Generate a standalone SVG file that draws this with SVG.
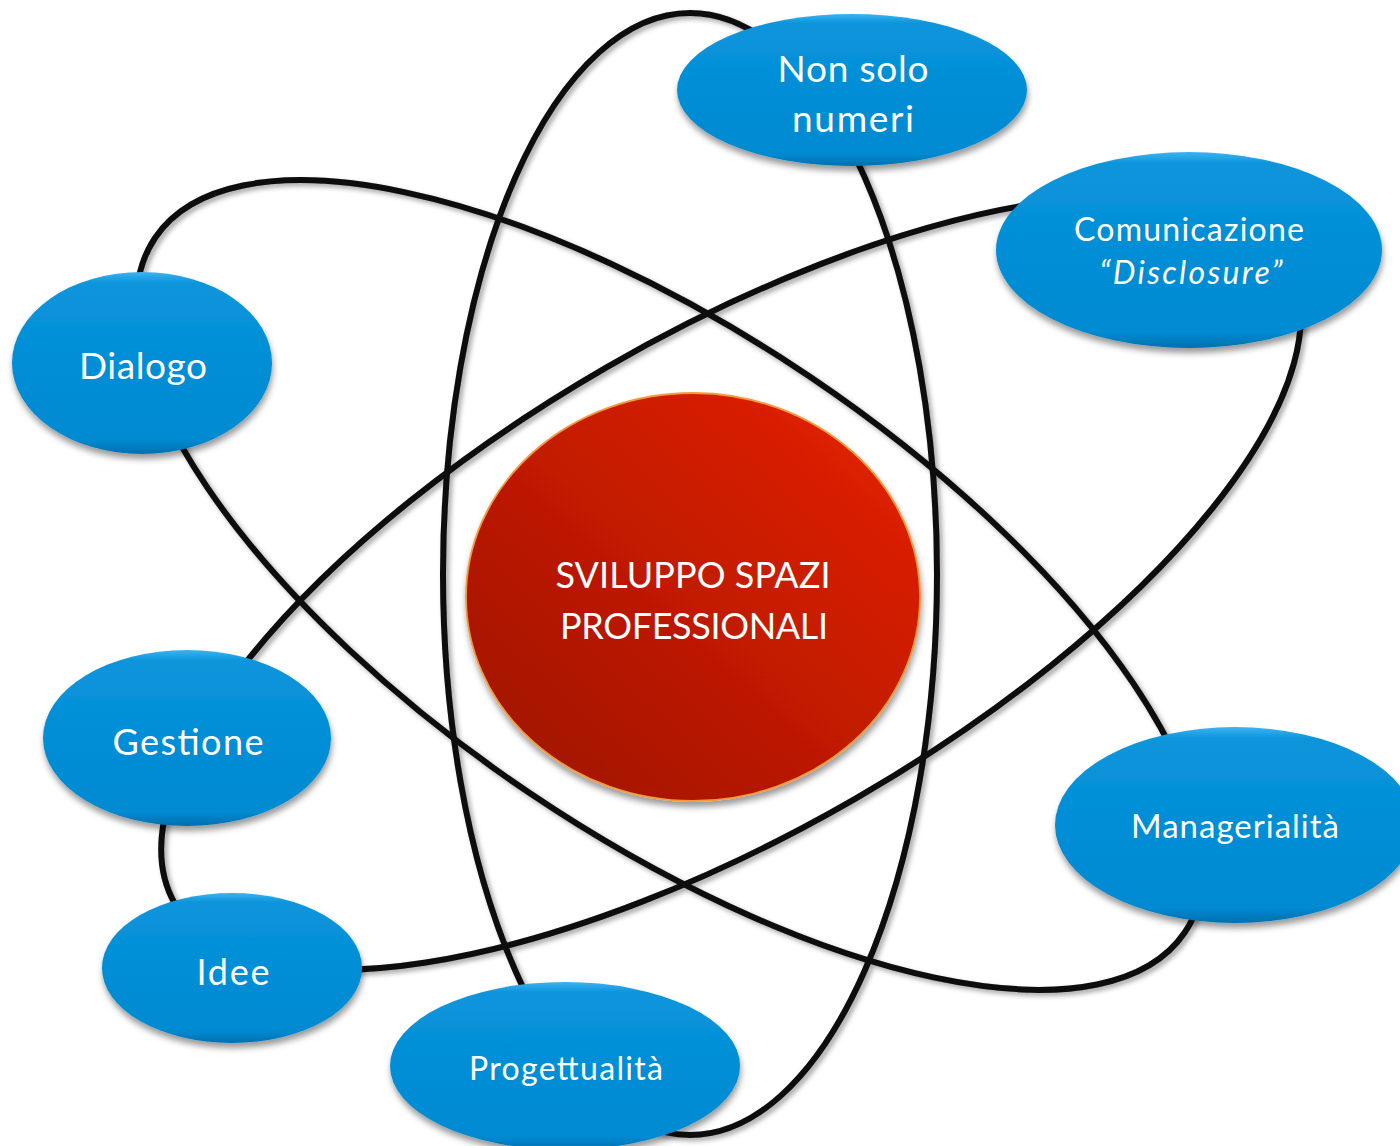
<svg xmlns="http://www.w3.org/2000/svg" width="1400" height="1146" viewBox="0 0 1400 1146">
<defs>
<linearGradient id="blue" x1="0" y1="0" x2="0" y2="1">
<stop offset="0" stop-color="#3cb3f0"/>
<stop offset="0.06" stop-color="#0b95dc"/>
<stop offset="0.5" stop-color="#028ed6"/>
<stop offset="0.92" stop-color="#008ad1"/>
<stop offset="1" stop-color="#0070b0"/>
</linearGradient>
<linearGradient id="red" x1="0.85" y1="0.15" x2="0.15" y2="0.85">
<stop offset="0" stop-color="#dc2000"/>
<stop offset="1" stop-color="#a61400"/>
</linearGradient>
<filter id="nodeShadow" x="-20%" y="-20%" width="140%" height="150%">
<feDropShadow dx="1" dy="5" stdDeviation="3" flood-color="#000" flood-opacity="0.4"/>
</filter>
<filter id="lineShadow" x="-10%" y="-10%" width="120%" height="120%">
<feDropShadow dx="3" dy="3" stdDeviation="2.5" flood-color="#000" flood-opacity="0.35"/>
</filter>
<style>
.orbit{fill:none;stroke:#0a0a0a;stroke-width:6}
.node{fill:url(#blue);filter:url(#nodeShadow)}
.lbl{fill:#fff;font-family:Lato,"Liberation Sans",sans-serif;text-anchor:middle}
</style>
</defs>
<rect width="1400" height="1146" fill="#fff"/>
<g id="connectors" filter="url(#lineShadow)">
<ellipse class="orbit" cx="690" cy="574" rx="247" ry="561"/>
<ellipse class="orbit" cx="0" cy="0" rx="621" ry="251" transform="translate(670 585) rotate(34)"/>
<ellipse class="orbit" cx="0" cy="0" rx="642" ry="249" transform="translate(731 583) rotate(-30)"/>
</g>
<g id="center">
<ellipse cx="693" cy="597" rx="227" ry="204" fill="url(#red)" stroke="#f39a3c" stroke-width="1.8" filter="url(#nodeShadow)"/>
<text class="lbl" x="693" y="588" font-size="36" textLength="275" lengthAdjust="spacing">SVILUPPO SPAZI</text>
<text class="lbl" x="694" y="639" font-size="36" textLength="268" lengthAdjust="spacing">PROFESSIONALI</text>
</g>
<g id="non-solo-numeri">
<ellipse class="node" cx="852" cy="90" rx="175" ry="76"/>
<text class="lbl" x="853" y="82" font-size="37" textLength="151" lengthAdjust="spacing">Non solo</text>
<text class="lbl" x="853" y="132" font-size="37" textLength="122" lengthAdjust="spacing">numeri</text>
</g>
<g id="comunicazione">
<ellipse class="node" cx="1189" cy="250" rx="193" ry="98"/>
<text class="lbl" x="1189" y="241" font-size="32" textLength="230" lengthAdjust="spacing">Comunicazione</text>
<text class="lbl" x="1191" y="284" font-size="32" font-style="italic" textLength="183" lengthAdjust="spacing">“Disclosure”</text>
</g>
<g id="dialogo">
<ellipse class="node" cx="142" cy="363" rx="130" ry="91"/>
<text class="lbl" x="143" y="379" font-size="37" textLength="128" lengthAdjust="spacing">Dialogo</text>
</g>
<g id="gestione">
<ellipse class="node" cx="187" cy="738" rx="144" ry="88"/>
<text class="lbl" x="188" y="755" font-size="36" textLength="151" lengthAdjust="spacing">Gestione</text>
</g>
<g id="idee">
<ellipse class="node" cx="232" cy="968" rx="130" ry="75"/>
<text class="lbl" x="233" y="985" font-size="36" textLength="73" lengthAdjust="spacing">Idee</text>
</g>
<g id="progettualita">
<ellipse class="node" cx="565" cy="1066" rx="175" ry="84"/>
<text class="lbl" x="566" y="1080" font-size="32" textLength="194" lengthAdjust="spacing">Progettualità</text>
</g>
<g id="managerialita">
<ellipse class="node" cx="1235" cy="825" rx="180" ry="98"/>
<text class="lbl" x="1235" y="838" font-size="33" textLength="208" lengthAdjust="spacing">Managerialità</text>
</g>
</svg>
